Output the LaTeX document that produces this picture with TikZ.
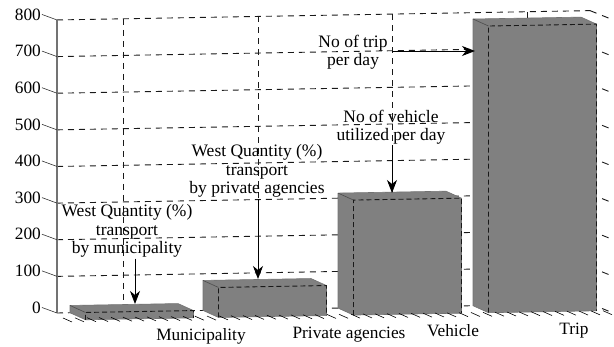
\documentclass[tikz,border=0pt]{standalone}
\usepackage{fontspec}
\setmainfont{Liberation Serif}
\usetikzlibrary{calc,arrows.meta}
\tikzset{
 gridl/.style={draw=black!90, line width=0.9pt, dash pattern=on 6pt off 5pt},
 barface/.style={fill=gray, draw=black!55, line width=0.6pt, line join=round},
 frontdash/.style={draw=black!90, line width=0.9pt, dash pattern=on 5pt off 3pt},
 hatchl/.style={draw=black, line width=0.6pt},
 ticklbl/.style={font=\fontsize{17.3}{18}\selectfont, inner sep=1pt},
 ann/.style={font=\fontsize{17.5}{18.4}\selectfont, align=center, inner sep=1pt},
 catlbl/.style={font=\fontsize{17.3}{18}\selectfont, inner sep=0pt, anchor=base},
 arr/.style={-{Stealth[length=13pt,width=10pt,inset=4pt]}, line width=0.9pt, draw=black},
}
\newcommand\drawbar[3]{%
 \pgfmathsetmacro\fy{313-0.0175*(#1-57)}%
 \pgfmathsetmacro\ty{\fy-#2}%
 \coordinate (#3blb) at (#1,\fy);
 \coordinate (#3blt) at (#1,\ty);
 \coordinate (#3brt) at ($(#3blt)+(108,-1.9)$);
 \coordinate (#3flt) at ($(#3blt)+(15.5,7)$);
 \coordinate (#3frt) at ($(#3flt)+(108,-1.9)$);
 \coordinate (#3flb) at ($(#3blb)+(15.5,7)$);
 \coordinate (#3frb) at ($(#3flb)+(108,-1.9)$);
 \path[barface] (#3blb) -- (#3blt) -- (#3brt) -- (#3frt) -- (#3frb) -- (#3flb) -- cycle;
 \draw[black!70, line width=0.6pt] (#3blt) -- (#3flt);
 \draw[frontdash] (#3flb) -- (#3flt) -- (#3frt) -- (#3frb);
}
\begin{document}
\begin{tikzpicture}[x=1pt,y=-1pt]
\useasboundingbox (0,0) rectangle (614,347);
% back wall horizontal grid + right wall depth lines
\foreach \v in {0,...,8}{
  \pgfmathsetmacro\gy{313-36.63*\v}
  \draw[gridl] (57,\gy) -- (590,\gy-9.33);
  \draw[gridl, dash pattern=on 7pt off 6pt] (590,\gy-9.33) -- ++(20,8);
}
% back wall vertical grid
\foreach \gx in {123,258,392,527}{
  \pgfmathsetmacro\gt{20-0.0175*(\gx-57)}
  \pgfmathsetmacro\gb{313-0.0175*(\gx-57)}
  \draw[gridl] (\gx,\gt) -- (\gx,\gb);
}
% bars
\drawbar{70}{7.3}{m}
\drawbar{203}{30}{p}
\drawbar{338}{115}{v}
\drawbar{473}{286.7}{t}
% floor hatch
\foreach \i in {0,...,45}{
  \pgfmathsetmacro\hx{63+12*\i}
  \pgfmathsetmacro\hy{318-0.0135*(\hx-63)}
  \draw[hatchl] (\hx,\hy) -- ++(9,4);
}
% axis
\draw[draw=gray!90!black, line width=1.8pt] (57,20) coordinate (axtop) -- (57,313) coordinate (axbot);
\foreach \v in {0,...,8}{
  \pgfmathsetmacro\gy{313-36.63*\v}
  \pgfmathtruncatemacro\lab{100*\v}
  \node[ticklbl, anchor=east] (yl\v) at (42,\gy-5.5) {\lab};
  \draw[black!80, line width=0.6pt] (yl\v.east) -- (57,\gy);
}
% category labels
\node[catlbl] (cm) at (201,341) {Municipality};
\node[catlbl] (cp) at (349,339) {Private agencies};
\node[catlbl] (cv) at (453,337) {Vehicle};
\node[catlbl] (ct) at (574,335) {Trip};
% annotations
\node[ann] (t1) at (127,231) {West Quantity (\%)\\transport\\by municipality};
\node[ann] (t2) at (257,171) {West Quantity (\%)\\transport\\by private agencies};
\node[ann] (t3) at (391,127) {No of vehicle\\utilized per day};
\node[ann] (t4) at (353,52) {No of trip\\per day};
\coordinate (a1e) at (135,304);
\coordinate (a2e) at (258,279);
\coordinate (a3e) at (392,193);
\coordinate (a4s) at (392,51);
\coordinate (a4e) at (475,51);
\draw[arr] (t1.south -| a1e) -- (a1e);
\draw[arr] (t2.south -| a2e) -- (a2e);
\draw[arr] (t3.south -| a3e) -- (a3e);
\draw[arr] (a4s) -- (a4e);
\end{tikzpicture}
\end{document}
